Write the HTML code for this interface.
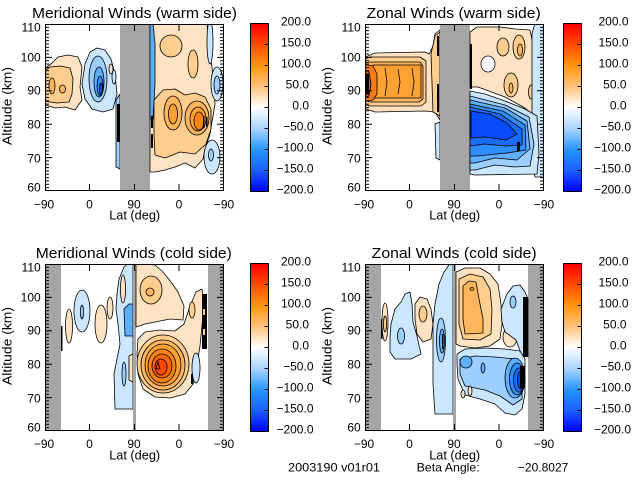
<!DOCTYPE html>
<html><head><meta charset="utf-8"><style>
html,body{margin:0;padding:0;background:#fff;}
svg{display:block;font-family:"Liberation Sans",sans-serif;}
.s{stroke:#000;stroke-width:0.8;stroke-linejoin:round;}
.p1{fill:#ffe3c2}.p2{fill:#ffcd8e}.p3{fill:#ffb65c}.p4{fill:#ffa234}.p5{fill:#ff8412}.p6{fill:#ff6408}.p7{fill:#ff4a00}
.b1{fill:#cbe6ff}.b2{fill:#9ccfff}.b3{fill:#5eafff}.b4{fill:#2e8eff}.b5{fill:#1a6cff}.b6{fill:#0a4cff}
.g{fill:#a5a5a5}
.k{fill:#000}
</style></head><body>
<svg width="640" height="480" viewBox="0 0 640 480" xmlns="http://www.w3.org/2000/svg">
<defs>
<linearGradient id="cb" x1="0" y1="0" x2="0" y2="1">
<stop offset="0" stop-color="#ff0000"/>
<stop offset="0.125" stop-color="#ff4a00"/>
<stop offset="0.25" stop-color="#ff9410"/>
<stop offset="0.375" stop-color="#ffc27a"/>
<stop offset="0.5" stop-color="#ffffff"/>
<stop offset="0.625" stop-color="#a8d4ff"/>
<stop offset="0.75" stop-color="#2898ff"/>
<stop offset="0.875" stop-color="#1a60ff"/>
<stop offset="1" stop-color="#0000ff"/>
</linearGradient>
<pattern id="mt" patternUnits="userSpaceOnUse" width="4" height="3.34" y="-0.5"><rect width="4" height="1" fill="#000"/></pattern>
<clipPath id="cp"><rect x="0" y="0" width="179" height="167"/></clipPath>
</defs>

<!-- ================= PANEL 1 ================= -->
<g transform="translate(45,24)">
<g clip-path="url(#cp)">
<polygon class="s p1" points="-2,46 7,39 13,33 23,31 33,33 37,43 35,63 37,76 30,86 20,83 10,84 -2,80"/>
<polygon class="s p2" points="-2,48 5,43 15,42 25,44 28,55 27,70 24,78 12,79 -2,77"/>
<ellipse class="s p3" cx="7" cy="62" rx="3" ry="8"/>
<ellipse class="s p3" cx="17.5" cy="65" rx="3" ry="4"/>
<polygon class="s b1" points="40,40 45,28 52,24 60,26 66,35 70,50 72,70 68,85 58,88 47,85 40,75 37,60"/>
<ellipse class="s b2" cx="53" cy="55" rx="9" ry="23"/>
<ellipse class="s b3" cx="54" cy="58" rx="5" ry="15"/>
<ellipse class="s b4" cx="55" cy="62" rx="3" ry="10"/>
<ellipse class="s b6" cx="56" cy="65" rx="1.5" ry="6"/>
<ellipse class="s p1" cx="66" cy="45" rx="2" ry="5"/>
<ellipse class="s b1" cx="69" cy="53" rx="2" ry="7"/>
<polygon class="s b2" points="71,76 75,70 75,145 71,143"/>
<rect class="k" x="72" y="80" width="3" height="38"/>
<rect class="g" x="75" y="-1" width="30" height="170"/>
<polygon class="s p1" points="105,-2 162,-2 163,15 167,43 170,80 165,110 160,125 158,135 150,144 140,139 130,143 120,146 110,148 105,148"/>
<polygon class="s b3" points="105,-1 108,-1 110,20 110,60 108,95 105,95"/>
<rect class="k" x="106" y="92" width="2" height="12"/>
<rect class="k" x="106" y="110" width="2" height="14"/>
<ellipse class="s p2" cx="126" cy="22" rx="11" ry="11"/>
<ellipse class="s p2" cx="148" cy="40" rx="5" ry="14"/>
<polygon class="s p2" points="109,76 118,66 130,65 140,71 150,69 160,73 166,85 166,105 161,120 150,130 135,128 120,134 110,131 109,110"/>
<ellipse class="s p3" cx="128" cy="89" rx="9" ry="17"/>
<ellipse class="s p3" cx="152" cy="94" rx="12" ry="17"/>
<ellipse class="s p4" cx="128" cy="90" rx="4.5" ry="10"/>
<ellipse class="s p4" cx="153" cy="95" rx="8" ry="12"/>
<ellipse class="s p5" cx="154" cy="97" rx="5" ry="9"/>
<rect class="k" x="158" y="92" width="1.5" height="12"/>
<rect class="k" x="161" y="93" width="1.5" height="10"/>
<ellipse class="s b1" cx="165" cy="18" rx="3" ry="22"/>
<ellipse class="s b1" cx="172" cy="60" rx="6" ry="17"/>
<ellipse class="s b2" cx="172" cy="61" rx="3" ry="9"/>
<ellipse class="s b1" cx="167" cy="133" rx="8" ry="17"/>
<ellipse class="s b2" cx="166" cy="131" rx="2.5" ry="6"/>
</g>
<rect x="0.5" y="0.5" width="178" height="166" fill="none" stroke="#000"/>
<rect x="1" y="0" width="3" height="167" fill="url(#mt)"/>
<rect x="175" y="0" width="3" height="167" fill="url(#mt)"/>
<path d="M1 33.4h6M1 66.8h6M1 100.2h6M1 133.6h6M172 33.4h6M172 66.8h6M172 100.2h6M172 133.6h6M44.5 166v-6M89.5 166v-6M134 166v-6M44.5 1v6M89.5 1v6M134 1v6" stroke="#000" fill="none"/>
</g>
<text x="134.5" y="18" font-size="15" text-anchor="middle" textLength="205" lengthAdjust="spacingAndGlyphs">Meridional Winds (warm side)</text>

<!-- ================= PANEL 2 ================= -->
<g transform="translate(365,24)">
<g clip-path="url(#cp)">
<polygon class="s p1" points="-2,34 10,29 60,28 64,30 68,22 70,10 75,6 75,96 70,88 60,87 10,88 -2,84"/>
<polygon class="s p2" points="-2,36 5,33 55,33 61,37 61,78 56,82 5,82 -2,80"/>
<polygon class="s p3" points="-2,39 5,38 55,38 58,42 58,75 54,78 5,78 -2,76"/>
<polygon class="s p4" points="8,41 56,41 56,74 8,74"/>
<polyline points="20,44 22,58 20,72" fill="none" stroke="#000" stroke-width="0.8"/>
<polyline points="33,45 35,58 33,70" fill="none" stroke="#000" stroke-width="0.8"/>
<polyline points="47,44 49,58 47,72" fill="none" stroke="#000" stroke-width="0.8"/>
<polygon class="s" fill="#ff7a10" points="-2,40 8,42 12,50 12,70 8,76 -2,78"/>
<polygon class="s" fill="#ff5000" points="-2,45 4,48 6,60 4,72 -2,74"/>
<rect class="k" x="0" y="50" width="4" height="20"/>
<polygon class="s p2" points="66,30 70,12 75,8 75,92 68,88"/>
<rect class="k" x="72" y="12" width="2" height="20"/>
<rect class="k" x="72" y="60" width="2" height="28"/>
<polygon class="s b1" points="70,100 75,98 75,136 71,134"/>
<rect class="g" x="75" y="-1" width="30" height="170"/>
<polygon class="s p1" points="105,8 112,3 135,3 150,5 165,6 168,20 168,91 160,84 140,73 113,63 105,63"/>
<ellipse cx="123" cy="40" rx="7" ry="8" fill="#fff" class="s"/>
<ellipse class="s p2" cx="138" cy="23" rx="6" ry="9"/>
<ellipse class="s p2" cx="154" cy="23" rx="6" ry="12"/>
<ellipse class="s p3" cx="155" cy="26" rx="2.5" ry="6"/>
<ellipse class="s p2" cx="146" cy="61" rx="7" ry="12"/>
<ellipse class="s p3" cx="146" cy="64" rx="2" ry="5"/>
<ellipse class="s p2" cx="166" cy="68" rx="2.5" ry="7"/>
<rect class="k" x="105" y="20" width="2" height="45"/>
<polygon class="s b1" points="167,10 170,-1 180,-1 180,153 170,153 167,140"/>
<polygon class="s b1" points="105,67 120,70 140,77 160,85 172,92 174,130 172,150 110,151 105,150"/>
<polygon class="s b2" points="105,72 140,81 164,93 169,120 165,142 150,143 130,141 110,146 105,146"/>
<polygon class="s b3" points="105,76 140,84 162,97 165,125 152,136 130,134 110,139 105,139"/>
<polygon class="s b4" points="105,80 138,87 160,101 161,126 142,129 112,132 105,132"/>
<polygon class="s b5" points="105,83 135,90 157,105 157,121 140,122 120,120 105,122"/>
<polygon class="s b6" points="106,87 125,90 142,99 152,110 141,116 120,113 106,114"/>
<rect class="k" x="152" y="118" width="3" height="9"/>
</g>
<rect x="0.5" y="0.5" width="178" height="166" fill="none" stroke="#000"/>
<rect x="1" y="0" width="3" height="167" fill="url(#mt)"/>
<rect x="175" y="0" width="3" height="167" fill="url(#mt)"/>
<path d="M1 33.4h6M1 66.8h6M1 100.2h6M1 133.6h6M172 33.4h6M172 66.8h6M172 100.2h6M172 133.6h6M44.5 166v-6M89.5 166v-6M134 166v-6M44.5 1v6M89.5 1v6M134 1v6" stroke="#000" fill="none"/>
</g>
<text x="453.7" y="18" font-size="15" text-anchor="middle" textLength="174" lengthAdjust="spacingAndGlyphs">Zonal Winds (warm side)</text>

<!-- ================= PANEL 3 ================= -->
<g transform="translate(45,264)">
<g clip-path="url(#cp)">
<rect class="g" x="-1" y="-1" width="17" height="170"/>
<rect class="g" x="163" y="-1" width="17" height="170"/>
<rect class="k" x="16" y="62" width="1.5" height="25"/>
<ellipse class="s b1" cx="37" cy="47" rx="8" ry="21"/>
<ellipse class="s b2" cx="37" cy="48" rx="1.5" ry="7"/>
<ellipse class="s p1" cx="24" cy="62" rx="3.5" ry="17"/>
<ellipse class="s p1" cx="56" cy="60" rx="6" ry="19"/>
<ellipse class="s p1" cx="65" cy="44" rx="3" ry="11"/>
<polygon class="s b1" points="72,30 74,15 79,3 84,-1 88,-1 88,145 70,145 69,110 72,95 75,80 73,60 71,45"/>
<ellipse class="s p1" cx="78" cy="25" rx="2.5" ry="14"/>
<polygon class="s b3" points="79,45 84,40 88,40 88,72 80,72"/>
<polygon class="s p1" points="84,92 88,90 88,118 84,116"/>
<ellipse class="s b2" cx="79" cy="110" rx="2" ry="12"/>
<rect class="g" x="88" y="-1" width="3" height="170"/>
<polygon class="s p1" points="91,-1 110,1 118,8 126,18 133,28 139,42 138,56 125,55 110,58 100,60 91,63"/>
<ellipse class="s p2" cx="106" cy="26" rx="11" ry="14"/>
<ellipse class="s p3" cx="105" cy="28" rx="4" ry="4"/>
<polygon class="s p1" points="93,75 100,68 115,66 130,67 139,60 145,42 151,28 157,25 159,40 157,62 155,82 152,100 148,120 140,130 125,134 110,133 98,125 93,110 92,90"/>
<ellipse class="s p2" cx="147" cy="46" rx="3" ry="8"/>
<ellipse class="s p2" cx="118" cy="100" rx="26" ry="29"/>
<ellipse class="s p3" cx="118" cy="101" rx="22" ry="25"/>
<ellipse class="s p4" cx="118" cy="101" rx="18" ry="21"/>
<ellipse class="s p5" cx="117" cy="102" rx="14" ry="17"/>
<ellipse class="s p6" cx="117" cy="102" rx="10" ry="12"/>
<ellipse class="s p7" cx="116" cy="103" rx="6" ry="8"/>
<polygon points="113,98 115,105 111,105" fill="none" stroke="#000" stroke-width="0.8"/>
<ellipse class="s b1" cx="151" cy="104" rx="4" ry="15"/>
<rect class="k" x="146" y="110" width="2" height="10"/>
<rect class="k" x="157" y="30" width="5" height="55"/>
<rect class="p2" x="158" y="45" width="2" height="6"/>
<rect class="p2" x="158" y="65" width="2" height="6"/>
</g>
<rect x="0.5" y="0.5" width="178" height="166" fill="none" stroke="#000"/>
<rect x="1" y="0" width="3" height="167" fill="url(#mt)"/>
<rect x="175" y="0" width="3" height="167" fill="url(#mt)"/>
<path d="M1 33.4h6M1 66.8h6M1 100.2h6M1 133.6h6M172 33.4h6M172 66.8h6M172 100.2h6M172 133.6h6M44.5 166v-6M89.5 166v-6M134 166v-6M44.5 1v6M89.5 1v6M134 1v6" stroke="#000" fill="none"/>
</g>
<text x="133.8" y="258" font-size="15" text-anchor="middle" textLength="196" lengthAdjust="spacingAndGlyphs">Meridional Winds (cold side)</text>

<!-- ================= PANEL 4 ================= -->
<g transform="translate(365,264)">
<g clip-path="url(#cp)">
<rect class="g" x="-1" y="-1" width="17" height="170"/>
<rect class="g" x="163" y="-1" width="17" height="170"/>
<rect class="k" x="16" y="55" width="1.5" height="20"/>
<ellipse class="s p1" cx="20" cy="58" rx="3" ry="19"/>
<ellipse class="s p2" cx="20" cy="60" rx="1.5" ry="8"/>
<polygon class="s b1" points="26,60 30,45 36,38 40,30 45,28 47,40 48,58 52,72 56,90 46,95 30,95 25,88 25,72"/>
<ellipse class="s b2" cx="36" cy="72" rx="3.5" ry="8"/>
<polygon class="s p1" points="50,40 55,33 62,35 66,45 68,60 66,75 58,78 52,70 50,55"/>
<ellipse class="s p2" cx="58" cy="50" rx="4" ry="8"/>
<polygon class="s b1" points="68,60 70,40 74,20 79,8 84,1 88,-1 88,150 70,150 68,120"/>
<ellipse class="s b2" cx="76" cy="76" rx="4.5" ry="22"/>
<ellipse class="s b3" cx="77" cy="77" rx="2.5" ry="12"/>
<rect class="k" x="77" y="70" width="1.5" height="15"/>
<rect class="g" x="88" y="-1" width="3" height="170"/>
<polygon class="s p1" points="91,8 100,4 115,4 125,10 133,20 136,40 137,60 135,75 125,82 110,84 95,82 91,80"/>
<polygon class="s p2" points="94,15 105,10 118,13 125,25 127,45 126,70 115,76 98,75 94,60"/>
<polygon class="s p3" points="98,22 104,17 111,18 114,35 118,55 118,69 100,70 98,55"/>
<ellipse class="s p4" cx="107" cy="25" rx="2" ry="1.5"/>
<ellipse class="s p1" cx="145" cy="73" rx="7" ry="10"/>
<polygon class="s b1" points="136,45 142,30 148,22 155,21 160,28 163,35 163,93 157,92 151,76 140,68 137,58"/>
<ellipse class="s b2" cx="148" cy="38" rx="3" ry="6"/>
<rect class="k" x="158" y="33" width="5" height="60"/>
<polygon class="s b1" points="92,90 100,85 120,84 140,85 155,87 160,95 160,130 157,145 150,151 140,149 130,140 115,135 100,131 93,115 92,100"/>
<polygon class="s b2" points="95,95 110,92 130,93 150,95 157,100 157,135 148,141 135,132 120,126 100,122 95,110"/>
<ellipse class="s b3" cx="101" cy="98" rx="6" ry="6"/>
<ellipse class="s b3" cx="118" cy="104" rx="2" ry="5"/>
<ellipse class="s b3" cx="150" cy="114" rx="10" ry="20"/>
<ellipse class="s b4" cx="152" cy="115" rx="7.5" ry="16"/>
<ellipse class="s b5" cx="154" cy="116" rx="5.5" ry="12"/>
<ellipse class="s b6" cx="156" cy="116" rx="3.5" ry="9"/>
<rect class="k" x="155" y="102" width="5" height="22"/>
<ellipse class="s p1" cx="105" cy="127" rx="2" ry="5"/>
<ellipse class="s p1" cx="98" cy="130" rx="2" ry="4"/>
</g>
<rect x="0.5" y="0.5" width="178" height="166" fill="none" stroke="#000"/>
<rect x="1" y="0" width="3" height="167" fill="url(#mt)"/>
<rect x="175" y="0" width="3" height="167" fill="url(#mt)"/>
<path d="M1 33.4h6M1 66.8h6M1 100.2h6M1 133.6h6M172 33.4h6M172 66.8h6M172 100.2h6M172 133.6h6M44.5 166v-6M89.5 166v-6M134 166v-6M44.5 1v6M89.5 1v6M134 1v6" stroke="#000" fill="none"/>
</g>
<text x="454.2" y="258" font-size="15" text-anchor="middle" textLength="165" lengthAdjust="spacingAndGlyphs">Zonal Winds (cold side)</text>

<!-- ================= AXIS LABELS ================= -->
<g font-size="12">
<g text-anchor="end">
<text x="40.7" y="31.7">110</text><text x="40.7" y="61.3">100</text><text x="40.7" y="94.5">90</text><text x="40.7" y="128.3">80</text><text x="40.7" y="162.3">70</text><text x="40.7" y="191.7">60</text>
<text x="360.7" y="31.7">110</text><text x="360.7" y="61.3">100</text><text x="360.7" y="94.5">90</text><text x="360.7" y="128.3">80</text><text x="360.7" y="162.3">70</text><text x="360.7" y="191.7">60</text>
<text x="40.7" y="271.7">110</text><text x="40.7" y="301.3">100</text><text x="40.7" y="334.5">90</text><text x="40.7" y="368.3">80</text><text x="40.7" y="402.3">70</text><text x="40.7" y="431.7">60</text>
<text x="360.7" y="271.7">110</text><text x="360.7" y="301.3">100</text><text x="360.7" y="334.5">90</text><text x="360.7" y="368.3">80</text><text x="360.7" y="402.3">70</text><text x="360.7" y="431.7">60</text>
</g>
<g text-anchor="middle">
<text x="44" y="208.5">−90</text><text x="89.5" y="208.5">0</text><text x="134" y="208.5">90</text><text x="179" y="208.5">0</text><text x="224" y="208.5">−90</text>
<text x="364" y="208.5">−90</text><text x="409.5" y="208.5">0</text><text x="454" y="208.5">90</text><text x="499" y="208.5">0</text><text x="544" y="208.5">−90</text>
<text x="44" y="448">−90</text><text x="89.5" y="448">0</text><text x="134" y="448">90</text><text x="179" y="448">0</text><text x="224" y="448">−90</text>
<text x="364" y="448">−90</text><text x="409.5" y="448">0</text><text x="454" y="448">90</text><text x="499" y="448">0</text><text x="544" y="448">−90</text>
</g>
</g>
<g font-size="13" text-anchor="middle">
<text x="134.7" y="219.5" textLength="51" lengthAdjust="spacingAndGlyphs">Lat (deg)</text>
<text x="454.7" y="219.5" textLength="51" lengthAdjust="spacingAndGlyphs">Lat (deg)</text>
<text x="134.7" y="459.5" textLength="51" lengthAdjust="spacingAndGlyphs">Lat (deg)</text>
<text x="454.7" y="459.5" textLength="51" lengthAdjust="spacingAndGlyphs">Lat (deg)</text>
<text transform="translate(11.5,106) rotate(-90)" textLength="78" lengthAdjust="spacingAndGlyphs">Altitude (km)</text>
<text transform="translate(331.5,106) rotate(-90)" textLength="78" lengthAdjust="spacingAndGlyphs">Altitude (km)</text>
<text transform="translate(11.5,346) rotate(-90)" textLength="78" lengthAdjust="spacingAndGlyphs">Altitude (km)</text>
<text transform="translate(331.5,346) rotate(-90)" textLength="78" lengthAdjust="spacingAndGlyphs">Altitude (km)</text>
</g>

<!-- ================= COLORBARS ================= -->
<g stroke="#000">
<rect x="250.5" y="23.5" width="18" height="168" fill="url(#cb)"/>
<rect x="563.5" y="23.5" width="18" height="168" fill="url(#cb)"/>
<rect x="250.5" y="263.5" width="18" height="168" fill="url(#cb)"/>
<rect x="563.5" y="263.5" width="18" height="168" fill="url(#cb)"/>
<path fill="none" d="M264.5 44.5h4M264.5 65.5h4M264.5 86.5h4M264.5 107.5h4M264.5 128.5h4M264.5 149.5h4M264.5 170.5h4
M577.5 44.5h4M577.5 65.5h4M577.5 86.5h4M577.5 107.5h4M577.5 128.5h4M577.5 149.5h4M577.5 170.5h4
M264.5 284.5h4M264.5 305.5h4M264.5 326.5h4M264.5 347.5h4M264.5 368.5h4M264.5 389.5h4M264.5 410.5h4
M577.5 284.5h4M577.5 305.5h4M577.5 326.5h4M577.5 347.5h4M577.5 368.5h4M577.5 389.5h4M577.5 410.5h4"/>
</g>
<g font-size="12" text-anchor="end">
<text x="311" y="25.6">200.0</text><text x="311" y="46.6">150.0</text><text x="311" y="67.6">100.0</text><text x="309" y="88.6">50.0</text><text x="309" y="109.6">0.0</text><text x="313.5" y="130.6">−50.0</text><text x="313.5" y="151.6">−100.0</text><text x="313.5" y="172.6">−150.0</text><text x="313.5" y="193.6">−200.0</text>
<text x="628.5" y="25.6">200.0</text><text x="628.5" y="46.6">150.0</text><text x="628.5" y="67.6">100.0</text><text x="626.5" y="88.6">50.0</text><text x="626.5" y="109.6">0.0</text><text x="631" y="130.6">−50.0</text><text x="631" y="151.6">−100.0</text><text x="631" y="172.6">−150.0</text><text x="631" y="193.6">−200.0</text>
<text x="311" y="265.6">200.0</text><text x="311" y="286.6">150.0</text><text x="311" y="307.6">100.0</text><text x="309" y="328.6">50.0</text><text x="309" y="349.6">0.0</text><text x="313.5" y="370.6">−50.0</text><text x="313.5" y="391.6">−100.0</text><text x="313.5" y="412.6">−150.0</text><text x="313.5" y="433.6">−200.0</text>
<text x="628.5" y="265.6">200.0</text><text x="628.5" y="286.6">150.0</text><text x="628.5" y="307.6">100.0</text><text x="626.5" y="328.6">50.0</text><text x="626.5" y="349.6">0.0</text><text x="631" y="370.6">−50.0</text><text x="631" y="391.6">−100.0</text><text x="631" y="412.6">−150.0</text><text x="631" y="433.6">−200.0</text>
</g>

<!-- ================= FOOTER ================= -->
<g font-size="12">
<text x="288" y="471.5" textLength="92" lengthAdjust="spacingAndGlyphs">2003190 v01r01</text>
<text x="416.7" y="471.5" textLength="63" lengthAdjust="spacingAndGlyphs">Beta Angle:</text>
<text x="568.3" y="471.5" text-anchor="end">−20.8027</text>
</g>
</svg>
</body></html>
